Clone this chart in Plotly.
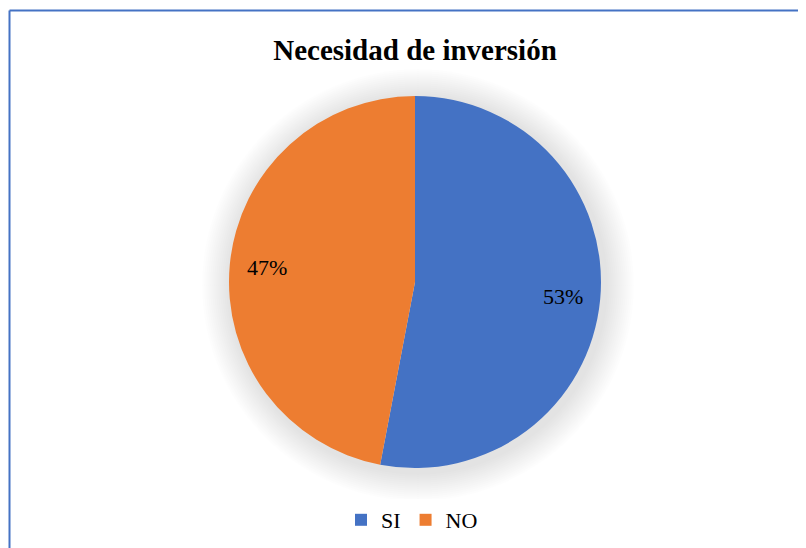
import math
import plotly.graph_objects as go

categories = ["SI", "NO"]
values = [53, 47]
colors = ["#4472C4", "#ED7D31"]
title_text = "Necesidad de inversión"

SERIF = "Liberation Serif, Times New Roman, serif"

# page body has an 8px margin; work in screen coordinates and offset
OX, OY = 8, 8
W, H = 798, 540
cx, cy, R = 415 - OX, 282 - OY, 186


def px(x):
    return x / W


def py(y):
    return (H - y) / H


fig = go.Figure()
fig.add_trace(go.Pie(
    labels=categories,
    values=values,
    sort=False,
    direction="clockwise",
    rotation=0,
    marker=dict(colors=colors, line=dict(width=0)),
    textinfo="none",
    hoverinfo="label+percent",
    domain=dict(x=[px(cx - R), px(cx + R)], y=[py(cy + R), py(cy - R)]),
    showlegend=True,
))

# percentage labels placed along each slice's bisector
total = sum(values)
annotations = []
cum = 0
for v in values:
    mid = (cum + v / 2) / total * 2 * math.pi
    cum += v
    lx = cx + 0.8 * R * math.sin(mid)
    ly = cy - 0.8 * R * math.cos(mid)
    annotations.append(dict(
        x=px(lx), y=py(ly), xref="paper", yref="paper",
        xanchor="center", yanchor="middle",
        text=f"{round(v / total * 100)}%", showarrow=False,
        font=dict(family=SERIF, size=22, color="#000000"),
    ))

shapes = []
# soft shadow around the pie
for i in range(14):
    r = R + 30 - i * 2
    shapes.append(dict(
        type="circle", xref="paper", yref="paper", layer="below",
        x0=px(cx + 3 - r), x1=px(cx + 3 + r),
        y0=py(cy + 3 + r), y1=py(cy + 3 - r),
        fillcolor="rgba(0,0,0,0.009)", line=dict(width=0),
    ))
# chart frame (top and left edges visible)
fx, fy = 9.5 - OX, 10.5 - OY
shapes.append(dict(type="line", xref="paper", yref="paper",
                   x0=px(fx), x1=1.0, y0=py(fy), y1=py(fy),
                   line=dict(color="#4472C4", width=2)))
shapes.append(dict(type="line", xref="paper", yref="paper",
                   x0=px(fx), x1=px(fx), y0=0, y1=py(fy),
                   line=dict(color="#4472C4", width=2)))

fig.update_layout(
    width=W, height=H,
    margin=dict(l=0, r=0, t=0, b=0),
    paper_bgcolor="white",
    plot_bgcolor="white",
    font=dict(family=SERIF, color="#000000"),
    title=dict(text="<b>" + title_text + "</b>", x=px(415 - OX), xanchor="center",
               y=py(50 - OY), yanchor="middle", yref="container",
               font=dict(family=SERIF, size=29, color="#000000")),
    legend=dict(orientation="h", x=px(412 - OX), xanchor="center", y=py(520 - OY), yanchor="middle",
                font=dict(family=SERIF, size=22, color="#000000"),
                itemwidth=30, traceorder="normal"),
    shapes=shapes,
    annotations=annotations,
)

fig.write_html("out.html")
